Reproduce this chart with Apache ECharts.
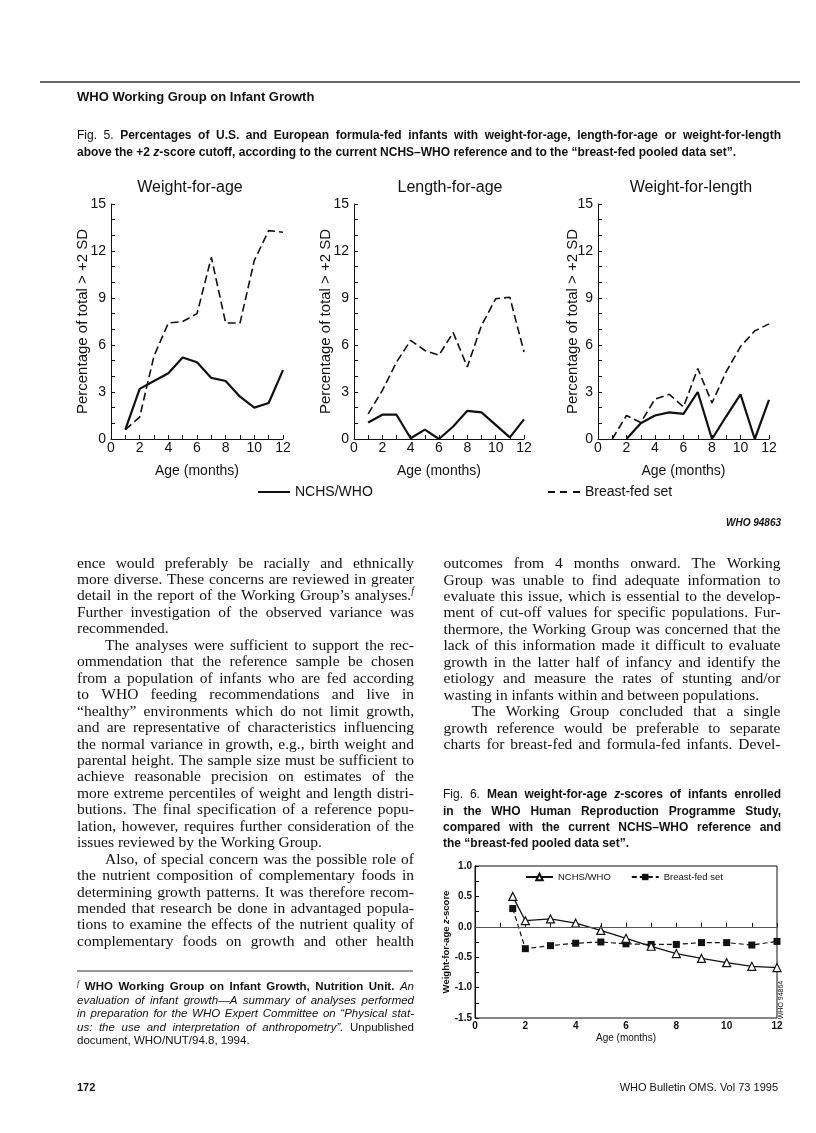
<!DOCTYPE html>
<html>
<head>
<meta charset="utf-8">
<title>WHO Working Group on Infant Growth – Fig. 5 and Fig. 6</title>
<script src="https://cdn.jsdelivr.net/npm/echarts@6/dist/echarts.min.js"></script>
<style>
  html, body { margin: 0; padding: 0; background: #fff; }
  #page { width: 816px; height: 1133px; }
</style>
</head>
<body>
<div id="page"></div>
<script>
// Fig. 5: % of formula-fed infants above +2 SD, by age in months
const months = [1, 2, 3, 4, 5, 6, 7, 8, 9, 10, 11, 12];
const wfaNchs = [0.6, 3.2, 3.7, 4.2, 5.2, 4.9, 3.9, 3.7, 2.7, 2.0, 2.3, 4.4];
const wfaBreastFed = [0.6, 1.4, 5.3, 7.4, 7.5, 8.0, 11.6, 7.4, 7.4, 11.4, 13.3, 13.2];
const lfaNchs = [1.05, 1.55, 1.55, 0.05, 0.6, 0.0, 0.8, 1.8, 1.7, 0.9, 0.1, 1.25];
const lfaBreastFed = [1.6, 3.1, 4.9, 6.3, 5.65, 5.35, 6.8, 4.6, 7.25, 8.95, 9.05, 5.55];
const wflNchs = [null, 0.0, 1.0, 1.5, 1.7, 1.6, 3.0, 0.0, 1.45, 2.85, 0.0, 2.5];
const wflBreastFed = [0.0, 1.5, 1.05, 2.55, 2.85, 2.05, 4.5, 2.3, 4.3, 5.9, 6.9, 7.35];
const fig5Titles = ['Weight-for-age', 'Length-for-age', 'Weight-for-length'];
const fig5Nchs = [wfaNchs, lfaNchs, wflNchs];
const fig5BreastFed = [wfaBreastFed, lfaBreastFed, wflBreastFed];

// Fig. 6: mean weight-for-age z-scores
const fig6Months = [1.5, 2, 3, 4, 5, 6, 7, 8, 9, 10, 11, 12];
const fig6Nchs = [0.5, 0.1, 0.13, 0.06, -0.06, -0.19, -0.32, -0.44, -0.52, -0.59, -0.65, -0.67];
const fig6BreastFed = [0.3, -0.36, -0.31, -0.27, -0.25, -0.28, -0.29, -0.29, -0.26, -0.26, -0.3, -0.24];

// page text. '>' = indented first line, trailing '|' = not justified, '^x' = superscript x
const bodyLeft = [
  'ence would preferably be racially and ethnically',
  'more diverse. These concerns are reviewed in greater',
  'detail in the report of the Working Group’s analyses.^f',
  'Further investigation of the observed variance was',
  'recommended.|',
  '>The analyses were sufficient to support the rec-',
  'ommendation that the reference sample be chosen',
  'from a population of infants who are fed according',
  'to WHO feeding recommendations and live in',
  '“healthy” environments which do not limit growth,',
  'and are representative of characteristics influencing',
  'the normal variance in growth, e.g., birth weight and',
  'parental height. The sample size must be sufficient to',
  'achieve reasonable precision on estimates of the',
  'more extreme percentiles of weight and length distri-',
  'butions. The final specification of a reference popu-',
  'lation, however, requires further consideration of the',
  'issues reviewed by the Working Group.|',
  '>Also, of special concern was the possible role of',
  'the nutrient composition of complementary foods in',
  'determining growth patterns. It was therefore recom-',
  'mended that research be done in advantaged popula-',
  'tions to examine the effects of the nutrient quality of',
  'complementary foods on growth and other health'
];
const bodyRight = [
  'outcomes from 4 months onward. The Working',
  'Group was unable to find adequate information to',
  'evaluate this issue, which is essential to the develop-',
  'ment of cut-off values for specific populations. Fur-',
  'thermore, the Working Group was concerned that the',
  'lack of this information made it difficult to evaluate',
  'growth in the latter half of infancy and identify the',
  'etiology and measure the rates of stunting and/or',
  'wasting in infants within and between populations.|',
  '>The Working Group concluded that a single',
  'growth reference would be preferable to separate',
  'charts for breast-fed and formula-fed infants. Devel-'
];
const fig5Caption = [
  [true, [['capR', 'Fig. 5.'], ['capB', ' Percentages of U.S. and European formula-fed infants with weight-for-age, length-for-age or weight-for-length']]],
  [false, [['capB', 'above the +2 '], ['capI', 'z'], ['capB', '-score cutoff, according to the current NCHS–WHO reference and to the “breast-fed pooled data set”.']]]
];
const fig6Caption = [
  [true, [['capR', 'Fig. 6.'], ['capB', ' Mean weight-for-age '], ['capI', 'z'], ['capB', '-scores of infants enrolled']]],
  [true, [['capB', 'in the WHO Human Reproduction Programme Study,']]],
  [true, [['capB', 'compared with the current NCHS–WHO reference and']]],
  [false, [['capB', 'the “breast-fed pooled data set”.']]]
];
const footnote = [
  [true, [['fnSup', 'f'], ['fnB', ' WHO Working Group on Infant Growth, Nutrition Unit.'], ['fnI', ' An']]],
  [true, [['fnI', 'evaluation of infant growth—A summary of analyses performed']]],
  [true, [['fnI', 'in preparation for the WHO Expert Committee on “Physical stat-']]],
  [true, [['fnI', 'us: the use and interpretation of anthropometry”.'], ['fnR', ' Unpublished']]],
  [false, [['fnR', 'document, WHO/NUT/94.8, 1994.']]]
];

const ink = '#111';
const SANS = '"Liberation Sans", Arial, Helvetica, sans-serif';
const SERIF = '"Liberation Serif", "Times New Roman", serif';
const fonts = {
  body: { font: `15.5px ${SERIF}` },
  sup: { font: `italic 10px ${SERIF}`, dy: -5 },
  head: { font: `bold 13px ${SANS}` },
  capR: { font: `12px ${SANS}` },
  capB: { font: `bold 12px ${SANS}` },
  capI: { font: `italic bold 12px ${SANS}` },
  fnR: { font: `11.5px ${SANS}` },
  fnB: { font: `bold 11.5px ${SANS}` },
  fnI: { font: `italic 11.5px ${SANS}` },
  fnSup: { font: `italic 8px ${SERIF}`, dy: -3 },
  foot: { font: `11px ${SANS}` },
  footB: { font: `bold 11px ${SANS}` },
  title: { font: `16px ${SANS}` },
  tag: { font: `italic bold 10px ${SANS}` }
};

const measurer = document.createElement('canvas').getContext('2d');
function runWidth(text, font) {
  measurer.font = font;
  return measurer.measureText(text).width;
}

// lay out one line word by word, justified or ragged, squeezed if too long
function layoutLine(segs, x, y, width, justify, out) {
  const words = [];
  let cur = null;
  segs.forEach(([key, text]) => {
    text.split(' ').forEach((tok, k) => {
      if (k > 0) cur = null;
      if (!tok) return;
      if (!cur) { cur = []; words.push(cur); }
      cur.push({ key, text: tok, w: runWidth(tok, fonts[key].font) });
    });
  });
  const wordW = words.map(w => w.reduce((s, r) => s + r.w, 0));
  const sumW = wordW.reduce((a, b) => a + b, 0);
  const space = runWidth(' ', fonts[words[0][0].key].font);
  const natural = sumW + space * (words.length - 1);
  const scale = natural > width ? width / natural : 1;
  const gap = justify && words.length > 1 ? (width - sumW * scale) / (words.length - 1) : space * scale;
  let px = x;
  words.forEach(word => {
    word.forEach(run => {
      out.push({
        type: 'text', x: px, y: y + (fonts[run.key].dy || 0), scaleX: scale, silent: true,
        style: { text: run.text, font: fonts[run.key].font, fill: ink, textAlign: 'left', textVerticalAlign: 'middle' }
      });
      px += run.w * scale;
    });
    px += gap;
  });
}

function parseBody(str) {
  let indent = false, justify = true;
  if (str[0] === '>') { indent = true; str = str.slice(1); }
  if (str.endsWith('|')) { justify = false; str = str.slice(0, -1); }
  const segs = [];
  str.split(/(\^.)/).forEach(p => {
    if (!p) return;
    if (p[0] === '^') segs.push(['sup', p[1]]);
    else segs.push(['body', p]);
  });
  return { indent, justify, segs };
}

const texts = [];
layoutLine([['head', 'WHO Working Group on Infant Growth']], 77, 97, 400, false, texts);
fig5Caption.forEach(([j, segs], i) => layoutLine(segs, 77, 136 + i * 17, 704, j, texts));
fig6Caption.forEach(([j, segs], i) => layoutLine(segs, 443, 795 + i * 16.2, 338, j, texts));
footnote.forEach(([j, segs], i) => layoutLine(segs, 77, 987 + i * 13.5, 337, j, texts));
const lineStep = 16.45;
[[bodyLeft, 77, 563.5], [bodyRight, 443.5, 564]].forEach(([lines, x0, y0]) => {
  lines.forEach((line, i) => {
    const p = parseBody(line);
    const ind = p.indent ? 28 : 0;
    layoutLine(p.segs, x0 + ind, y0 + i * lineStep, 337 - ind, p.justify, texts);
  });
});

const titleCenters = [190, 450, 691];
fig5Titles.forEach((t, i) => texts.push({
  type: 'text', x: titleCenters[i], y: 188, silent: true,
  style: { text: t, font: fonts.title.font, fill: ink, textAlign: 'center', textVerticalAlign: 'middle' }
}));
texts.push(
  { type: 'text', x: 781, y: 523, silent: true, style: { text: 'WHO 94863', font: fonts.tag.font, fill: ink, textAlign: 'right', textVerticalAlign: 'middle' } },
  { type: 'text', x: 781, y: 1000, rotation: Math.PI / 2, silent: true, style: { text: 'WHO 94864', font: `7px ${SANS}`, fill: ink, textAlign: 'center', textVerticalAlign: 'middle' } },
  { type: 'text', x: 77, y: 1088, silent: true, style: { text: '172', font: fonts.footB.font, fill: ink, textAlign: 'left', textVerticalAlign: 'middle' } },
  { type: 'text', x: 778, y: 1088, silent: true, style: { text: 'WHO Bulletin OMS. Vol 73 1995', font: fonts.foot.font, fill: ink, textAlign: 'right', textVerticalAlign: 'middle' } },
  { type: 'line', silent: true, shape: { x1: 40, y1: 82, x2: 800, y2: 82 }, style: { stroke: '#333', lineWidth: 1.5 } },
  { type: 'line', silent: true, shape: { x1: 77, y1: 971, x2: 413, y2: 971 }, style: { stroke: '#333', lineWidth: 1 } }
);

const fig5Grids = [
  { left: 111, top: 204, width: 172, height: 235 },
  { left: 354, top: 204, width: 170, height: 235 },
  { left: 598, top: 204, width: 171, height: 235 }
];
const fig5NameGaps = [21, 21, 18];
const fig6Grid = { left: 475, top: 866, width: 302, height: 152, show: true, borderColor: ink, borderWidth: 1, backgroundColor: 'transparent' };

const axisLine = { lineStyle: { color: ink, width: 1 } };
const xAxes = fig5Grids.map((g, i) => ({
  type: 'value', gridIndex: i, min: 0, max: 12, interval: 1,
  name: 'Age (months)', nameLocation: 'middle', nameGap: 25, nameMoveOverlap: false,
  nameTextStyle: { fontFamily: SANS, fontSize: 14, color: ink },
  axisLine, axisTick: { inside: true, length: 4, lineStyle: { color: ink } },
  axisLabel: { margin: 2, fontFamily: SANS, fontSize: 14, color: ink, formatter: v => (v % 2 === 0 ? String(v) : '') },
  splitLine: { show: false }
}));
const yAxes = fig5Grids.map((g, i) => ({
  type: 'value', gridIndex: i, min: 0, max: 15, interval: 1,
  name: 'Percentage of total > +2 SD', nameLocation: 'middle', nameGap: fig5NameGaps[i], nameRotate: 90,
  nameMoveOverlap: false,
  nameTextStyle: { fontFamily: SANS, fontSize: 15, color: ink },
  axisLine: { show: true, lineStyle: { color: ink, width: 1 } },
  axisTick: { show: true, inside: true, length: 4, lineStyle: { color: ink } },
  axisLabel: { margin: 5, fontFamily: SANS, fontSize: 14, color: ink, formatter: v => (v % 3 === 0 ? String(v) : '') },
  splitLine: { show: false }
}));
xAxes.push({
  type: 'value', gridIndex: 3, min: 0, max: 12, interval: 1,
  name: 'Age (months)', nameLocation: 'middle', nameGap: 15, nameMoveOverlap: false,
  nameTextStyle: { fontFamily: SANS, fontSize: 10, color: ink },
  axisLine, axisTick: { inside: true, length: 4, lineStyle: { color: ink } },
  axisLabel: { margin: 3, fontFamily: SANS, fontSize: 10, fontWeight: 'bold', color: ink, formatter: v => (v % 2 === 0 ? String(v) : '') },
  splitLine: { show: false }
});
yAxes.push({
  type: 'value', gridIndex: 3, min: -1.5, max: 1.0, interval: 0.25,
  name: '{b|Weight-for-age }{i|z}{b|-score}', nameLocation: 'middle', nameGap: 24, nameRotate: 90,
  nameMoveOverlap: false,
  nameTextStyle: {
    color: ink,
    rich: {
      b: { fontFamily: SANS, fontSize: 9.5, fontWeight: 'bold', color: ink },
      i: { fontFamily: SANS, fontSize: 9.5, fontWeight: 'bold', fontStyle: 'italic', color: ink }
    }
  },
  axisLine: { show: true, lineStyle: { color: ink, width: 1 } },
  axisTick: { show: true, inside: true, length: 4, lineStyle: { color: ink } },
  axisLabel: {
    margin: 3, fontFamily: SANS, fontSize: 10, fontWeight: 'bold', color: ink,
    formatter: v => (Math.abs(v * 2 - Math.round(v * 2)) < 1e-9 ? v.toFixed(1) : '')
  },
  splitLine: { show: false }
});

const series = [];
fig5Grids.forEach((g, i) => {
  series.push({
    name: 'NCHS/WHO', type: 'line', xAxisIndex: i, yAxisIndex: i, symbol: 'none',
    lineStyle: { color: ink, width: 2.2, type: 'solid' }, itemStyle: { color: ink },
    data: months.map((m, k) => [m, fig5Nchs[i][k]])
  });
  series.push({
    name: 'Breast-fed set', type: 'line', xAxisIndex: i, yAxisIndex: i, symbol: 'none',
    lineStyle: { color: ink, width: 1.6, type: [8, 4] }, itemStyle: { color: ink },
    data: months.map((m, k) => [m, fig5BreastFed[i][k]])
  });
});
series.push({
  name: 'NCHS/WHO ', type: 'line', xAxisIndex: 3, yAxisIndex: 3,
  symbol: 'triangle', symbolSize: 8, showAllSymbol: true,
  lineStyle: { color: ink, width: 1.3 }, itemStyle: { color: '#fff', borderColor: ink, borderWidth: 1.2 },
  data: fig6Months.map((m, k) => [m, fig6Nchs[k]]),
  markLine: {
    silent: true, symbol: 'none', label: { show: false },
    lineStyle: { color: '#555', width: 1, type: 'solid' },
    data: [{ yAxis: 0 }]
  },
  z: 3
});
series.push({
  name: 'Breast-fed set ', type: 'line', xAxisIndex: 3, yAxisIndex: 3,
  symbol: 'rect', symbolSize: 7, showAllSymbol: true,
  lineStyle: { color: ink, width: 1.2, type: [5, 3] }, itemStyle: { color: ink },
  data: fig6Months.map((m, k) => [m, fig6BreastFed[k]]),
  z: 2
});

// plain line keys for the Fig. 5 legend (no markers)
const solidKey = 'path://M0,0H32V2H0Z';
const dashedKey = 'path://M0,0H7V2H0Z M12,0H19V2H12Z M25,0H32V2H25Z';
const legendText = { fontFamily: SANS, fontSize: 14, color: ink };
const chart = echarts.init(document.getElementById('page'), null, { renderer: 'canvas' });
chart.setOption({
  animation: false,
  backgroundColor: '#fff',
  grid: [...fig5Grids, fig6Grid].map(g => Object.assign({ outerBoundsMode: 'none' }, g)),
  xAxis: xAxes,
  yAxis: yAxes,
  legend: [
    { left: 258, top: 485, padding: 0, itemWidth: 32, itemHeight: 2, data: [{ name: 'NCHS/WHO', icon: solidKey }], textStyle: legendText },
    { left: 548, top: 485, padding: 0, itemWidth: 32, itemHeight: 2, data: [{ name: 'Breast-fed set', icon: dashedKey }], textStyle: legendText },
    {
      left: 525, top: 872, padding: 0, itemWidth: 27, itemHeight: 8, itemGap: 20,
      data: ['NCHS/WHO ', 'Breast-fed set '], formatter: n => n.trim(),
      textStyle: { fontFamily: SANS, fontSize: 9.5, color: ink }
    }
  ],
  series,
  graphic: { elements: texts }
});
</script>
</body>
</html>
